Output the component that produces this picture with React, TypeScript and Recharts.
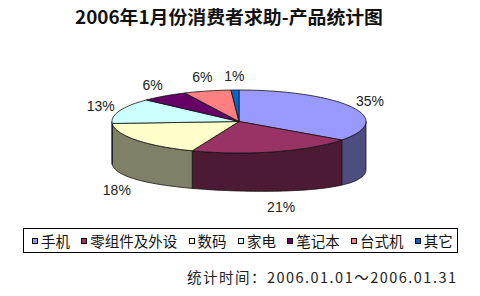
import { PieChart, Pie, Cell, Legend } from 'recharts'

const categories = ['手机', '零组件及外设', '数码', '家电', '笔记本', '台式机', '其它']
const shares = [35, 21, 18, 13, 6, 6, 1]
const colors = ['#9999ff', '#993366', '#ffffcc', '#ccffff', '#660066', '#ff8080', '#0066cc']

const title = '2006年1月份消费者求助-产品统计图'
const footer = '统计时间：2006.01.01～2006.01.31'

const data = categories.map((name, i) => ({ name, value: shares[i] }))

const CJK = '"Noto Sans CJK SC", sans-serif'
const TILT = 31.5 / 127 // ry / rx of the top face
const RAD = Math.PI / 180

// wall height, a bit taller on the sides (fake perspective)
function depth(deg: number) {
  const c = Math.cos(deg * RAD)
  return 38 + 6.5 * c * c + 3.5 * c
}

function pt(cx: number, cy: number, rx: number, ry: number, deg: number) {
  return [cx + rx * Math.cos(deg * RAD), cy - ry * Math.sin(deg * RAD)]
}

function arc(cx: number, cy: number, rx: number, ry: number, a0: number, a1: number, drop = false) {
  const n = Math.max(2, Math.ceil(Math.abs(a1 - a0) / 2))
  const out: string[] = []
  for (let i = 0; i <= n; i++) {
    const a = a0 + ((a1 - a0) * i) / n
    const [x, y] = pt(cx, cy, rx, ry, a)
    out.push(`${x.toFixed(2)},${(y + (drop ? depth(a) : 0)).toFixed(2)}`)
  }
  return out
}

function darken(hex: string) {
  const n = parseInt(hex.slice(1), 16)
  const c = [(n >> 16) & 255, (n >> 8) & 255, n & 255].map((v) => Math.round(v / 2))
  return `rgb(${c.join(',')})`
}

// elliptical sector plus the visible part of the wall
function Slice3D(props: any) {
  const { cx, cy, outerRadius, startAngle, endAngle, fill } = props
  const rx = outerRadius
  const ry = outerRadius * TILT
  const lo = Math.max(Math.min(startAngle, endAngle), -180)
  const hi = Math.min(Math.max(startAngle, endAngle), 0)
  const top = arc(cx, cy, rx, ry, startAngle, endAngle)
  let wall: string | null = null
  if (hi > lo) {
    const upper = arc(cx, cy, rx, ry, lo, hi)
    const lower = arc(cx, cy, rx, ry, hi, lo, true)
    wall = [...upper, ...lower].join(' ')
  }
  return (
    <g>
      {wall && <polygon points={wall} fill={darken(fill)} stroke="#111" strokeWidth={0.8} strokeLinejoin="round" />}
      <polygon points={`${cx},${cy} ${top.join(' ')}`} fill={fill} stroke="#111" strokeWidth={0.8} strokeLinejoin="round" />
    </g>
  )
}

function renderLabel(p: any) {
  const front = Math.sin(p.midAngle * RAD) < 0
  const rx = p.outerRadius + (front ? 24 : 20)
  const ry = p.outerRadius * TILT + 14
  const [x, y0] = pt(p.cx, p.cy, rx, ry, p.midAngle)
  const y = front ? y0 + depth(p.midAngle) + 2 : y0
  return (
    <text x={x} y={y} textAnchor="middle" dominantBaseline="central" fontSize={14} fontFamily='"Liberation Sans", Arial, sans-serif' fill="#222">
      {`${p.value}%`}
    </text>
  )
}

function renderLegend({ payload }: any) {
  const items = [...(payload || [])].sort((a: any, b: any) => categories.indexOf(a.value) - categories.indexOf(b.value))
  return (
    <div
      style={{
        display: 'flex',
        alignItems: 'center',
        height: 25,
        width: 435,
        boxSizing: 'border-box',
        border: '1px solid #000',
        paddingLeft: 8,
        fontFamily: CJK,
        fontSize: 14.5,
        color: '#111',
        whiteSpace: 'nowrap',
      }}
    >
      {items.map((e: any, i: number) => (
        <span key={e.value} style={{ display: 'flex', alignItems: 'center', marginRight: i < items.length - 1 ? 11.3 : 0 }}>
          <span style={{ width: 4, height: 4, border: '1px solid #000', background: colors[categories.indexOf(e.value)], marginRight: 3 }} />
          <span>{e.value}</span>
        </span>
      ))}
    </div>
  )
}

export default function App() {
  return (
    <div style={{ position: 'relative', width: 480, height: 296, background: '#fff' }}>
      <style>{'body{margin:0}'}</style>
      <PieChart width={480} height={296} margin={{ top: 0, right: 0, bottom: 0, left: 0 }}>
        <Pie
          data={data}
          dataKey="value"
          nameKey="name"
          cx={239}
          cy={121.5}
          outerRadius={127}
          startAngle={90}
          endAngle={-270}
          stroke="#111"
          shape={Slice3D}
          label={renderLabel}
          labelLine={false}
          isAnimationActive={false}
        >
          {data.map((d, i) => (
            <Cell key={d.name} fill={colors[i]} />
          ))}
        </Pie>
        <Legend
          layout="horizontal"
          verticalAlign="middle"
          align="center"
          itemSorter={null as any}
          content={renderLegend}
          wrapperStyle={{ top: 228, left: 23, width: 435, height: 25 }}
        />
      </PieChart>
      <svg width={480} height={296} style={{ position: 'absolute', left: 0, top: 0, pointerEvents: 'none' }}>
        <text x={75} y={24} textLength={308} lengthAdjust="spacingAndGlyphs" fontSize={18} fontWeight="bold" fontFamily={CJK} fill="#111">
          {title}
        </text>
        <text x={187} y={283} textLength={269} lengthAdjust="spacing" fontSize={14.5} fontFamily={CJK} fill="#222">
          {footer}
        </text>
      </svg>
    </div>
  )
}
